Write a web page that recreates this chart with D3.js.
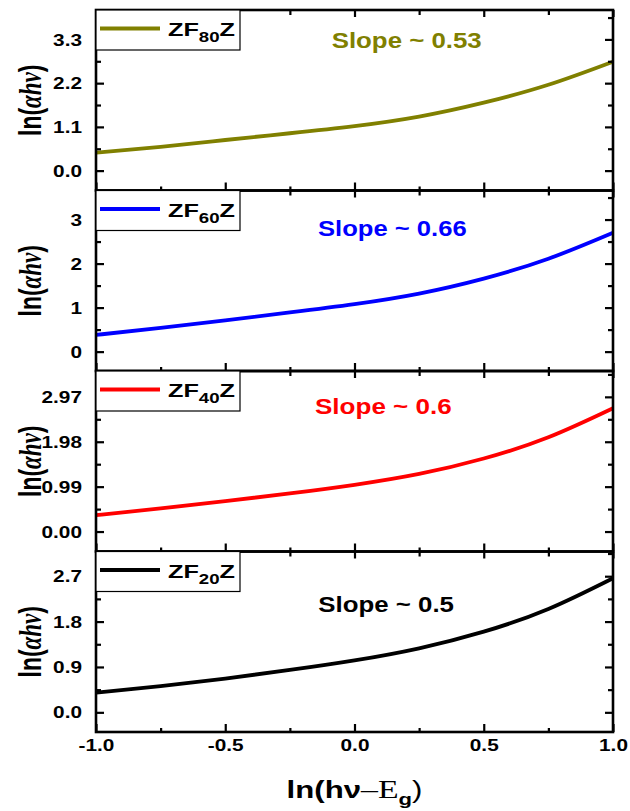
<!DOCTYPE html>
<html><head><meta charset="utf-8">
<script src="https://cdn.jsdelivr.net/npm/d3@7"></script>
<style>
html,body{margin:0;padding:0;background:#fff;}
svg{display:block;}
text{font-family:"Liberation Sans",Arial,sans-serif;font-weight:bold;fill:#000;}
</style></head><body>
<svg id="chart" width="630" height="811"></svg>
<script>
// ---------- data ----------
const xValues = [-1.0, -0.75, -0.5, -0.25, 0.0, 0.25, 0.5, 0.75, 1.0];
const zf80Values = [0.45, 0.60, 0.77, 0.94, 1.12, 1.36, 1.71, 2.16, 2.74];
const zf60Values = [0.38, 0.54, 0.71, 0.89, 1.08, 1.32, 1.66, 2.11, 2.70];
const zf40Values = [0.36, 0.51, 0.67, 0.84, 1.03, 1.27, 1.61, 2.08, 2.72];
const zf20Values = [0.39, 0.52, 0.67, 0.84, 1.03, 1.27, 1.60, 2.05, 2.66];

const seriesSubscripts = ["80", "60", "40", "20"];
const slopeLabels = ["Slope ~ 0.53", "Slope ~ 0.66", "Slope ~ 0.6", "Slope ~ 0.5"];

const xTicks = [-1.0, -0.5, 0.0, 0.5, 1.0];
const xTickLabels = ["-1.0", "-0.5", "0.0", "0.5", "1.0"];
const xMinorTicks = [-0.75, -0.25, 0.25, 0.75];

const yDomain80 = [-0.50, 4.04];
const yTicks80 = [0.0, 1.1, 2.2, 3.3];
const yTickLabels80 = ["0.0", "1.1", "2.2", "3.3"];
const yMinor80 = [0.55, 1.65, 2.75, 3.85];

const yDomain60 = [-0.44, 3.66];
const yTicks60 = [0, 1, 2, 3];
const yTickLabels60 = ["0", "1", "2", "3"];
const yMinor60 = [0.5, 1.5, 2.5, 3.5];

const yDomain40 = [-0.44, 3.54];
const yTicks40 = [0.00, 0.99, 1.98, 2.97];
const yTickLabels40 = ["0.00", "0.99", "1.98", "2.97"];
const yMinor40 = [0.495, 1.485, 2.475, 3.465];

const yDomain20 = [-0.39, 3.19];
const yTicks20 = [0.0, 0.9, 1.8, 2.7];
const yTickLabels20 = ["0.0", "0.9", "1.8", "2.7"];
const yMinor20 = [0.45, 1.35, 2.25, 3.15];

// ---------- styling / layout ----------
const colors = ["#808000", "#0000ff", "#ff0000", "#000000"];
const panelData = [
  {values: zf80Values, domain: yDomain80, ticks: yTicks80, labels: yTickLabels80, minor: yMinor80},
  {values: zf60Values, domain: yDomain60, ticks: yTicks60, labels: yTickLabels60, minor: yMinor60},
  {values: zf40Values, domain: yDomain40, ticks: yTicks40, labels: yTickLabels40, minor: yMinor40},
  {values: zf20Values, domain: yDomain20, ticks: yTicks20, labels: yTickLabels20, minor: yMinor20}
];
const slopeLayout = [
  {x0: 331.7, w: 150, dy: 38},
  {x0: 318, w: 148.7, dy: 45.5},
  {x0: 315, w: 136.7, dy: 43},
  {x0: 318.3, w: 135.7, dy: 60.5}
];

const L = 96, R = 613, T = 10, B = 732;
const PH = (B - T) / 4;
const SX = 1.3;

const svg = d3.select("#chart");
const x = d3.scaleLinear().domain([-1, 1]).range([L, R]);

panelData.forEach((p, i) => {
  const top = T + i * PH, bot = top + PH;
  const y = d3.scaleLinear().domain(p.domain).range([bot, top]);
  const g = svg.append("g");

  // curve
  const line = d3.line().x(d => x(d[0])).y(d => y(d[1])).curve(d3.curveNatural);
  g.append("path").datum(xValues.map((v, k) => [v, p.values[k]]))
    .attr("d", line).attr("fill", "none").attr("stroke", colors[i])
    .attr("stroke-width", 3.8).attr("stroke-linecap", "butt");

  const styleAxis = sel => {
    sel.select(".domain").remove();
    sel.selectAll("line").attr("stroke", "#000").attr("stroke-width", 2.2);
  };

  // left major with labels
  const la = g.append("g").attr("transform", `translate(${L},0)`)
    .call(d3.axisLeft(y).tickValues(p.ticks).tickSize(-8).tickFormat((d, k) => p.labels[k]));
  styleAxis(la);
  la.selectAll("text").attr("x", null).attr("dy", "0.35em")
    .attr("transform", `translate(-14,0) scale(${SX},1)`)
    .attr("text-anchor", "end").attr("font-size", 16)
    .style("font-family", '"Liberation Sans",Arial,sans-serif').style("font-weight", "bold");
  styleAxis(g.append("g").attr("transform", `translate(${L},0)`)
    .call(d3.axisLeft(y).tickValues(p.minor).tickSize(-5).tickFormat("")));
  // right
  styleAxis(g.append("g").attr("transform", `translate(${R},0)`)
    .call(d3.axisRight(y).tickValues(p.ticks).tickSize(-8).tickFormat("")));
  styleAxis(g.append("g").attr("transform", `translate(${R},0)`)
    .call(d3.axisRight(y).tickValues(p.minor).tickSize(-5).tickFormat("")));
  // top
  styleAxis(g.append("g").attr("transform", `translate(0,${top})`)
    .call(d3.axisTop(x).tickValues(xTicks).tickSize(-7).tickFormat("")));
  styleAxis(g.append("g").attr("transform", `translate(0,${top})`)
    .call(d3.axisTop(x).tickValues(xMinorTicks).tickSize(-5).tickFormat("")));
  // bottom
  const ba = g.append("g").attr("transform", `translate(0,${bot})`)
    .call(d3.axisBottom(x).tickValues(xTicks).tickSize(-8)
      .tickFormat((d, k) => i === 3 ? xTickLabels[k] : ""));
  styleAxis(ba);
  ba.selectAll("text").attr("y", null).attr("dy", null)
    .attr("transform", `translate(0,19) scale(${SX},1)`)
    .attr("text-anchor", "middle").attr("font-size", 16)
    .style("font-family", '"Liberation Sans",Arial,sans-serif').style("font-weight", "bold");
  styleAxis(g.append("g").attr("transform", `translate(0,${bot})`)
    .call(d3.axisBottom(x).tickValues(xMinorTicks).tickSize(-4).tickFormat("")));

  // frame
  g.append("rect").attr("x", L).attr("y", top).attr("width", R - L).attr("height", PH)
    .attr("fill", "none").attr("stroke", "#000").attr("stroke-width", 2.6);

  // legend
  g.append("rect").attr("x", L).attr("y", top).attr("width", 144).attr("height", 40)
    .attr("fill", "#fff").attr("stroke", "#000").attr("stroke-width", 1.2);
  g.append("line").attr("x1", 100).attr("x2", 160).attr("y1", top + 18.5).attr("y2", top + 18.5)
    .attr("stroke", colors[i]).attr("stroke-width", 4);
  const lt = g.append("text").attr("x", 168).attr("y", top + 26).attr("font-size", 19)
    .attr("textLength", 67).attr("lengthAdjust", "spacingAndGlyphs");
  lt.append("tspan").text("ZF");
  lt.append("tspan").attr("font-size", 14).attr("dy", 6).text(seriesSubscripts[i]);
  lt.append("tspan").attr("dy", -6).text("Z");

  // slope annotation
  g.append("text").attr("x", slopeLayout[i].x0).attr("y", top + slopeLayout[i].dy)
    .attr("font-size", 22).attr("fill", colors[i]).style("fill", colors[i])
    .attr("textLength", slopeLayout[i].w).attr("lengthAdjust", "spacingAndGlyphs")
    .text(slopeLabels[i]);

  // y title
  const yt = svg.append("text")
    .attr("transform", `translate(41,${(top + bot) / 2}) scale(1.35,1) rotate(-90)`)
    .attr("text-anchor", "middle").attr("font-size", 23);
  yt.append("tspan").text("ln(");
  yt.append("tspan").style("font-family", '"Liberation Serif",serif').style("font-style", "italic").text("αhν");
  yt.append("tspan").text(")");
});

// x title
const xt = svg.append("text")
  .attr("transform", `translate(${(L + R) / 2},798) scale(${SX},1)`)
  .attr("text-anchor", "middle").attr("font-size", 24);
xt.append("tspan").text("ln(hν");
xt.append("tspan").style("font-family", '"Liberation Serif",serif').style("font-weight", "normal").attr("font-size", 26).text("–E");
xt.append("tspan").attr("font-size", 17).attr("dy", 7).text("g");
xt.append("tspan").attr("dy", -7).style("font-weight", "normal").text(")");
</script>
</body></html>
